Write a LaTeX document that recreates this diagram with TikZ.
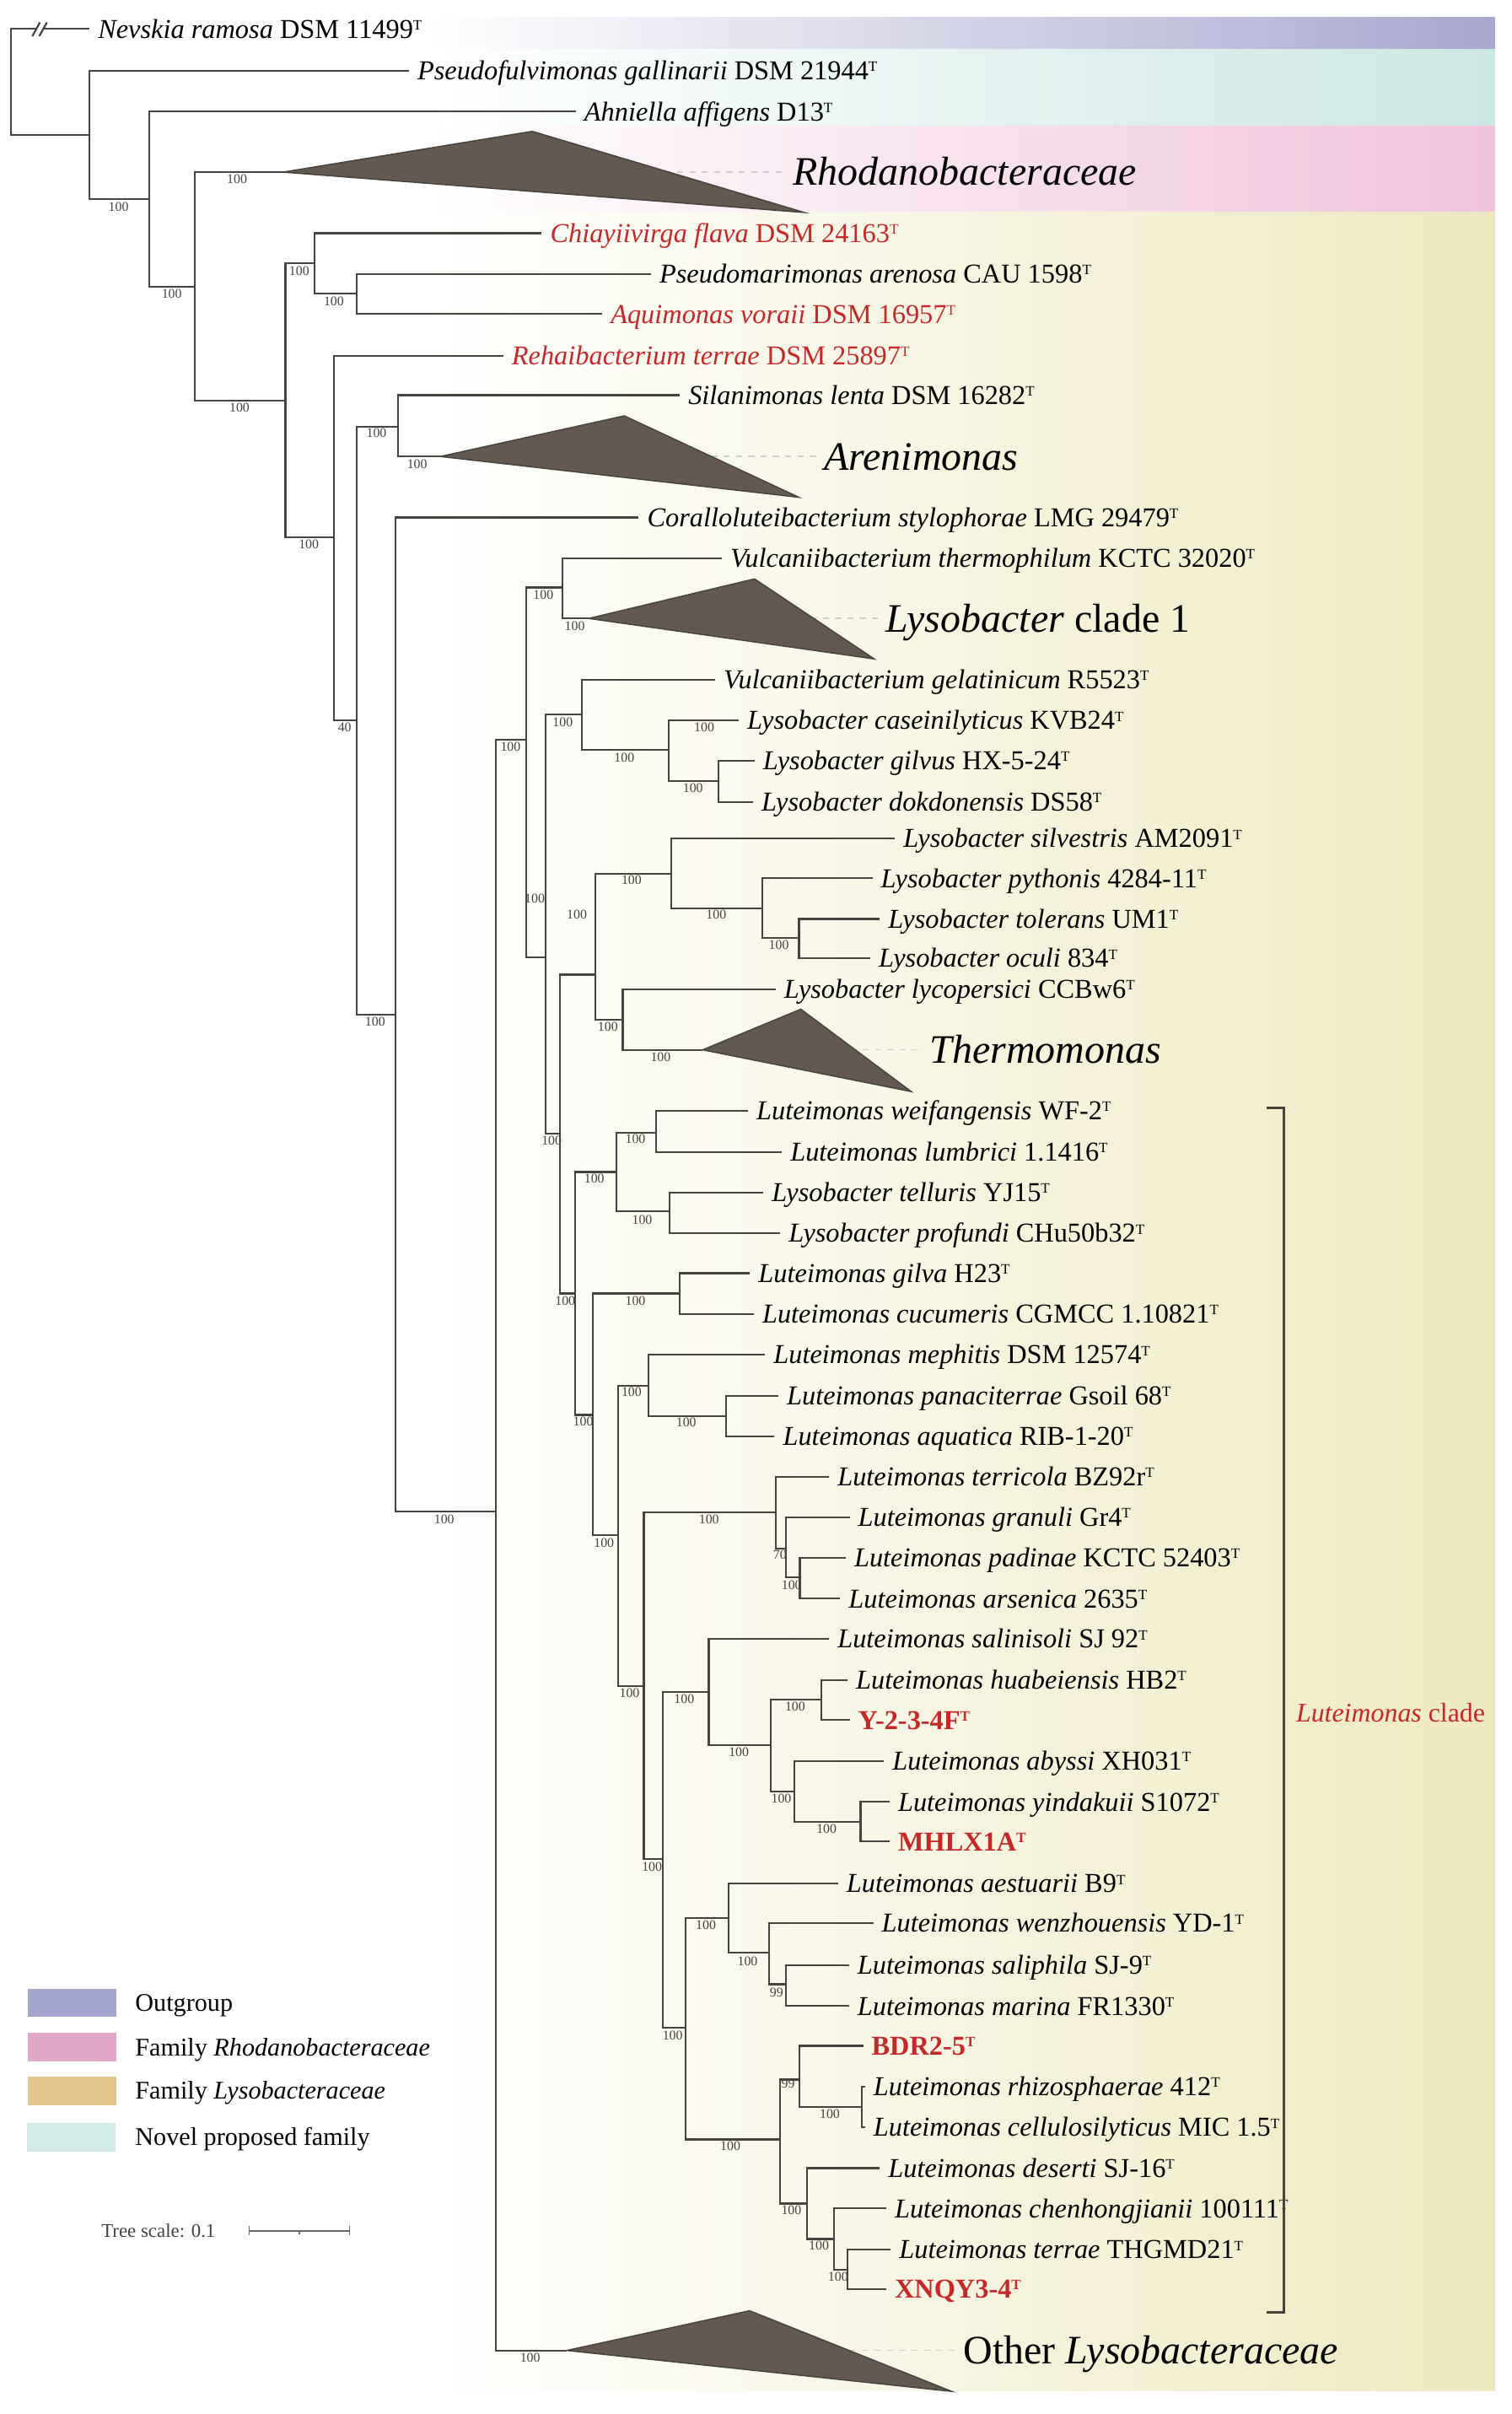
\documentclass[tikz,border=0pt]{standalone}
\usepackage{fontspec}
\setmainfont{Liberation Serif}

\newcommand{\tstr}{\raisebox{4pt}{\fontsize{7}{8}\selectfont T}}

\definecolor{treeline}{RGB}{70,66,62}
\definecolor{cladefill}{RGB}{99,89,81}
\definecolor{outgrp}{RGB}{168,168,208}
\definecolor{novelfam}{RGB}{204,232,228}
\definecolor{rhodofam}{RGB}{240,196,220}
\definecolor{lysofam}{RGB}{238,233,192}
\definecolor{legout}{RGB}{163,166,204}
\definecolor{legrho}{RGB}{225,166,200}
\definecolor{leglys}{RGB}{227,198,138}
\definecolor{legnov}{RGB}{210,235,233}
\definecolor{strainred}{RGB}{196,40,40}

\tikzset{every picture/.style={line width=0.75pt}}
\tikzset{
  branch/.style={draw=treeline, line width=0.9pt},
  collapsed/.style={draw=treeline, fill=cladefill, line width=0.6pt},
  leader/.style={draw=gray!40, line width=0.6pt, dash pattern={on 3pt off 3pt}},
  leaf/.style={anchor=base west, inner sep=0pt, xshift=3.75pt, yshift=-4.4pt, font=\fontsize{13.3}{15}\selectfont},
  boot/.style={inner sep=0pt, text=treeline, font=\fontsize{6.5}{7}\selectfont},
  cladename/.style={anchor=base west, inner sep=0pt, yshift=-6.5pt, font=\fontsize{19.7}{22}\selectfont},
  legtext/.style={anchor=base west, inner sep=0pt, yshift=-4.1pt, font=\fontsize{12.4}{14}\selectfont},
  bracket/.style={draw=treeline, line width=1.1pt},
}

\begin{document}
\begin{tikzpicture}[x=0.75pt,y=0.75pt,yscale=-1,xscale=1]
\useasboundingbox (0,0) rectangle (982,1568);

% family bands
\shade[left color=white, right color=outgrp] (278,11) rectangle (971,32);
\shade[left color=white, right color=novelfam] (278,32) rectangle (971,82);
\shade[left color=white, right color=rhodofam] (278,82) rectangle (971,138);
\shade[left color=white, right color=lysofam] (278,138) rectangle (971,1553);

% internal nodes
\coordinate (root) at (7,53.2);
\coordinate (n1) at (58.2,87.6);
\coordinate (n2) at (96.8,129.1);
\coordinate (n3) at (126.7,186.3);
\coordinate (n4) at (185.5,260.3);
\coordinate (n5) at (204.2,171);
\coordinate (n6) at (231.7,190.7);
\coordinate (n7) at (217,349.1);
\coordinate (n8) at (231.7,467.7);
\coordinate (n9) at (258.8,277);
\coordinate (n11) at (256.9,659.1);
\coordinate (n12) at (322.3,981.9);
\coordinate (n13) at (341.8,480.6);
\coordinate (n14) at (365.6,381.6);
\coordinate (n16) at (354.3,621.7);
\coordinate (n17) at (378.2,464);
\coordinate (n18) at (434.5,487.2);
\coordinate (n19) at (466.7,507.5);
\coordinate (n20) at (363.8,736.2);
\coordinate (n21) at (386.7,633);
\coordinate (n22) at (436.1,567.4);
\coordinate (n23) at (495.2,589.9);
\coordinate (n24) at (519.1,609.2);
\coordinate (n25) at (404.6,662.3);
\coordinate (n26) at (373.7,840.1);
\coordinate (n27) at (400.4,761.3);
\coordinate (n28) at (426.4,735.6);
\coordinate (n29) at (434.8,786.9);
\coordinate (n30) at (385.1,919);
\coordinate (n31) at (441.7,840.1);
\coordinate (n32) at (401.5,997.3);
\coordinate (n33) at (421.3,900);
\coordinate (n34) at (471.7,919.7);
\coordinate (n35) at (418.3,1095);
\coordinate (n36) at (504,982.5);
\coordinate (n37) at (510.5,1005.9);
\coordinate (n38) at (519.6,1024.5);
\coordinate (n39) at (430.6,1207.5);
\coordinate (n40) at (460.5,1098.8);
\coordinate (n41) at (500.8,1133.7);
\coordinate (n42) at (533.8,1104.1);
\coordinate (n43) at (516,1163.5);
\coordinate (n44) at (559.1,1183.5);
\coordinate (n45) at (445.3,1317);
\coordinate (n46) at (473.2,1245.7);
\coordinate (n47) at (499.5,1268.3);
\coordinate (n48) at (510.7,1288.8);
\coordinate (n49) at (506.6,1389.6);
\coordinate (n50) at (519.5,1350.7);
\coordinate (n51) at (560,1368.4);
\coordinate (n52) at (524.5,1431.3);
\coordinate (n53) at (542,1454.3);
\coordinate (n54) at (550.8,1474.4);

% leaves
\coordinate (brkA) at (23.5,18.8);
\coordinate (brkB) at (28,18.8);
\coordinate (nevskia) at (58.2,18.8);
\coordinate (pseudofulvimonas) at (265.7,46);
\coordinate (ahniella) at (374.1,72.5);
\coordinate (chiayiivirga) at (352,151.5);
\coordinate (pseudomarimonas) at (423,178);
\coordinate (aquimonas) at (391.3,204);
\coordinate (rehaibacterium) at (327,231);
\coordinate (silanimonas) at (441.7,256.7);
\coordinate (coralloluteibacterium) at (415,336.1);
\coordinate (vulcthermo) at (469,362.5);
\coordinate (vulcgel) at (464.7,441.5);
\coordinate (caseinilyticus) at (480,468);
\coordinate (gilvus) at (490.2,494.1);
\coordinate (dokdonensis) at (489.3,521);
\coordinate (silvestris) at (581.5,544.7);
\coordinate (pythonis) at (566.8,570.5);
\coordinate (tolerans) at (571.6,596.9);
\coordinate (oculi) at (565.5,622.4);
\coordinate (lycopersici) at (504,642.5);
\coordinate (weifangensis) at (486,721.5);
\coordinate (lumbrici) at (508,748.3);
\coordinate (telluris) at (496,774.5);
\coordinate (profundi) at (507,801);
\coordinate (gilva) at (487.3,827);
\coordinate (cucumeris) at (489.8,853.5);
\coordinate (mephitis) at (497.1,880);
\coordinate (panaciterrae) at (505.7,906.6);
\coordinate (aquatica) at (503.2,933);
\coordinate (terricola) at (538.7,959.3);
\coordinate (granuli) at (552,985.4);
\coordinate (padinae) at (549.5,1011.7);
\coordinate (arsenica) at (545.9,1038.4);
\coordinate (salinisoli) at (538.7,1064.6);
\coordinate (huabeiensis) at (550.7,1091.3);
\coordinate (y234f) at (552,1117.3);
\coordinate (abyssi) at (574.3,1143.8);
\coordinate (yindakuii) at (578,1170.4);
\coordinate (mhlx1a) at (578,1196.2);
\coordinate (aestuarii) at (544.5,1223.4);
\coordinate (wenzhouensis) at (567.4,1249.2);
\coordinate (saliphila) at (551.6,1276.5);
\coordinate (marina) at (551.6,1303);
\coordinate (bdr25) at (560.8,1328.8);
\coordinate (rhizosphaerae) at (562,1355.3);
\coordinate (cellulosilyticus) at (562,1381.8);
\coordinate (deserti) at (571.6,1408.3);
\coordinate (chenhongjianii) at (575.8,1434.5);
\coordinate (terrae) at (578.7,1461.3);
\coordinate (xnqy34) at (575.8,1486.8);

% collapsed clades
\coordinate (rhodo) at (183.9,111.8);
\coordinate (areni) at (286.1,296.5);
\coordinate (clade1) at (382.5,401.7);
\coordinate (thermo) at (456.5,681.9);
\coordinate (other) at (368.2,1526.7);

% dashed leaders
\draw[leader] (rhodo) -- (511,111.8);
\draw[leader] (areni) -- (531,296.5);
\draw[leader] (clade1) -- (571,401.7);
\draw[leader] (thermo) -- (600,681.9);
\draw[leader] (other) -- (621,1526.7);

% branches
\draw[branch] (root) |- (brkA);
\draw[branch] (brkB) -- (nevskia);
\draw[branch] (21,23.5) -- (26,14.5);
\draw[branch] (25.5,23.5) -- (30.5,14.5);
\draw[branch] (root) |- (n1);
\draw[branch] (n1) |- (pseudofulvimonas) (n1) |- (n2);
\draw[branch] (n2) |- (ahniella) (n2) |- (n3);
\draw[branch] (n3) |- (rhodo) (n3) |- (n4);
\draw[branch] (n4) |- (n5) (n4) |- (n7);
\draw[branch] (n5) |- (chiayiivirga) (n5) |- (n6);
\draw[branch] (n6) |- (pseudomarimonas) (n6) |- (aquimonas);
\draw[branch] (n7) |- (rehaibacterium) (n7) |- (n8);
\draw[branch] (n8) |- (n9) (n8) |- (n11);
\draw[branch] (n9) |- (silanimonas) (n9) |- (areni);
\draw[branch] (n11) |- (coralloluteibacterium) (n11) |- (n12);
\draw[branch] (n12) |- (n13) (n12) |- (other);
\draw[branch] (n13) |- (n14) (n13) |- (n16);
\draw[branch] (n14) |- (vulcthermo) (n14) |- (clade1);
\draw[branch] (n16) |- (n17) (n16) |- (n20);
\draw[branch] (n17) |- (vulcgel) (n17) |- (n18);
\draw[branch] (n18) |- (caseinilyticus) (n18) |- (n19);
\draw[branch] (n19) |- (gilvus) (n19) |- (dokdonensis);
\draw[branch] (n20) |- (n21) (n20) |- (n26);
\draw[branch] (n21) |- (n22) (n21) |- (n25);
\draw[branch] (n22) |- (silvestris) (n22) |- (n23);
\draw[branch] (n23) |- (pythonis) (n23) |- (n24);
\draw[branch] (n24) |- (tolerans) (n24) |- (oculi);
\draw[branch] (n25) |- (lycopersici) (n25) |- (thermo);
\draw[branch] (n26) |- (n27) (n26) |- (n30);
\draw[branch] (n27) |- (n28) (n27) |- (n29);
\draw[branch] (n28) |- (weifangensis) (n28) |- (lumbrici);
\draw[branch] (n29) |- (telluris) (n29) |- (profundi);
\draw[branch] (n30) |- (n31) (n30) |- (n32);
\draw[branch] (n31) |- (gilva) (n31) |- (cucumeris);
\draw[branch] (n32) |- (n33) (n32) |- (n35);
\draw[branch] (n33) |- (mephitis) (n33) |- (n34);
\draw[branch] (n34) |- (panaciterrae) (n34) |- (aquatica);
\draw[branch] (n35) |- (n36) (n35) |- (n39);
\draw[branch] (n36) |- (terricola) (n36) |- (n37);
\draw[branch] (n37) |- (granuli) (n37) |- (n38);
\draw[branch] (n38) |- (padinae) (n38) |- (arsenica);
\draw[branch] (n39) |- (n40) (n39) |- (n45);
\draw[branch] (n40) |- (salinisoli) (n40) |- (n41);
\draw[branch] (n41) |- (n42) (n41) |- (n43);
\draw[branch] (n42) |- (huabeiensis) (n42) |- (y234f);
\draw[branch] (n43) |- (abyssi) (n43) |- (n44);
\draw[branch] (n44) |- (yindakuii) (n44) |- (mhlx1a);
\draw[branch] (n45) |- (n46) (n45) |- (n49);
\draw[branch] (n46) |- (aestuarii) (n46) |- (n47);
\draw[branch] (n47) |- (wenzhouensis) (n47) |- (n48);
\draw[branch] (n48) |- (saliphila) (n48) |- (marina);
\draw[branch] (n49) |- (n50) (n49) |- (n52);
\draw[branch] (n50) |- (bdr25) (n50) |- (n51);
\draw[branch] (n51) |- (rhizosphaerae) (n51) |- (cellulosilyticus);
\draw[branch] (n52) |- (deserti) (n52) |- (n53);
\draw[branch] (n53) |- (chenhongjianii) (n53) |- (n54);
\draw[branch] (n54) |- (terrae) (n54) |- (xnqy34);

% triangles
\draw[collapsed] (rhodo) -- (345.8,85.3) -- (522.5,138) -- cycle;
\draw[collapsed] (areni) -- (405.6,270.1) -- (519,323) -- cycle;
\draw[collapsed] (clade1) -- (490.2,376) -- (568,428) -- cycle;
\draw[collapsed] (thermo) -- (520.3,655.5) -- (592,709) -- cycle;
\draw[collapsed] (other) -- (487,1500.9) -- (618.3,1553.3) -- cycle;

% leaf labels
\node[leaf] (t-nevskia) at (nevskia) {\textit{Nevskia ramosa} DSM 11499\tstr};
\node[leaf] (t-pseudofulvimonas) at (pseudofulvimonas) {\textit{Pseudofulvimonas gallinarii} DSM 21944\tstr};
\node[leaf] (t-ahniella) at (ahniella) {\textit{Ahniella affigens} D13\tstr};
\node[leaf, text=strainred] (t-chiayiivirga) at (chiayiivirga) {\textit{Chiayiivirga flava} DSM 24163\tstr};
\node[leaf] (t-pseudomarimonas) at (pseudomarimonas) {\textit{Pseudomarimonas arenosa} CAU 1598\tstr};
\node[leaf, text=strainred] (t-aquimonas) at (aquimonas) {\textit{Aquimonas voraii} DSM 16957\tstr};
\node[leaf, text=strainred] (t-rehaibacterium) at (rehaibacterium) {\textit{Rehaibacterium terrae} DSM 25897\tstr};
\node[leaf] (t-silanimonas) at (silanimonas) {\textit{Silanimonas lenta} DSM 16282\tstr};
\node[leaf] (t-coralloluteibacterium) at (coralloluteibacterium) {\textit{Coralloluteibacterium stylophorae} LMG 29479\tstr};
\node[leaf] (t-vulcthermo) at (vulcthermo) {\textit{Vulcaniibacterium thermophilum} KCTC 32020\tstr};
\node[leaf] (t-vulcgel) at (vulcgel) {\textit{Vulcaniibacterium gelatinicum} R5523\tstr};
\node[leaf] (t-caseinilyticus) at (caseinilyticus) {\textit{Lysobacter caseinilyticus} KVB24\tstr};
\node[leaf] (t-gilvus) at (gilvus) {\textit{Lysobacter gilvus} HX-5-24\tstr};
\node[leaf] (t-dokdonensis) at (dokdonensis) {\textit{Lysobacter dokdonensis} DS58\tstr};
\node[leaf] (t-silvestris) at (silvestris) {\textit{Lysobacter silvestris} AM2091\tstr};
\node[leaf] (t-pythonis) at (pythonis) {\textit{Lysobacter pythonis} 4284-11\tstr};
\node[leaf] (t-tolerans) at (tolerans) {\textit{Lysobacter tolerans} UM1\tstr};
\node[leaf] (t-oculi) at (oculi) {\textit{Lysobacter oculi} 834\tstr};
\node[leaf] (t-lycopersici) at (lycopersici) {\textit{Lysobacter lycopersici} CCBw6\tstr};
\node[leaf] (t-weifangensis) at (weifangensis) {\textit{Luteimonas weifangensis} WF-2\tstr};
\node[leaf] (t-lumbrici) at (lumbrici) {\textit{Luteimonas lumbrici} 1.1416\tstr};
\node[leaf] (t-telluris) at (telluris) {\textit{Lysobacter telluris} YJ15\tstr};
\node[leaf] (t-profundi) at (profundi) {\textit{Lysobacter profundi} CHu50b32\tstr};
\node[leaf] (t-gilva) at (gilva) {\textit{Luteimonas gilva} H23\tstr};
\node[leaf] (t-cucumeris) at (cucumeris) {\textit{Luteimonas cucumeris} CGMCC 1.10821\tstr};
\node[leaf] (t-mephitis) at (mephitis) {\textit{Luteimonas mephitis} DSM 12574\tstr};
\node[leaf] (t-panaciterrae) at (panaciterrae) {\textit{Luteimonas panaciterrae} Gsoil 68\tstr};
\node[leaf] (t-aquatica) at (aquatica) {\textit{Luteimonas aquatica} RIB-1-20\tstr};
\node[leaf] (t-terricola) at (terricola) {\textit{Luteimonas terricola} BZ92r\tstr};
\node[leaf] (t-granuli) at (granuli) {\textit{Luteimonas granuli} Gr4\tstr};
\node[leaf] (t-padinae) at (padinae) {\textit{Luteimonas padinae} KCTC 52403\tstr};
\node[leaf] (t-arsenica) at (arsenica) {\textit{Luteimonas arsenica} 2635\tstr};
\node[leaf] (t-salinisoli) at (salinisoli) {\textit{Luteimonas salinisoli} SJ 92\tstr};
\node[leaf] (t-huabeiensis) at (huabeiensis) {\textit{Luteimonas huabeiensis} HB2\tstr};
\node[leaf, text=strainred, font=\fontsize{13.3}{15}\selectfont\bfseries] (t-y234f) at (y234f) {Y-2-3-4F\tstr};
\node[leaf] (t-abyssi) at (abyssi) {\textit{Luteimonas abyssi} XH031\tstr};
\node[leaf] (t-yindakuii) at (yindakuii) {\textit{Luteimonas yindakuii} S1072\tstr};
\node[leaf, text=strainred, font=\fontsize{13.3}{15}\selectfont\bfseries] (t-mhlx1a) at (mhlx1a) {MHLX1A\tstr};
\node[leaf] (t-aestuarii) at (aestuarii) {\textit{Luteimonas aestuarii} B9\tstr};
\node[leaf] (t-wenzhouensis) at (wenzhouensis) {\textit{Luteimonas wenzhouensis} YD-1\tstr};
\node[leaf] (t-saliphila) at (saliphila) {\textit{Luteimonas saliphila} SJ-9\tstr};
\node[leaf] (t-marina) at (marina) {\textit{Luteimonas marina} FR1330\tstr};
\node[leaf, text=strainred, font=\fontsize{13.3}{15}\selectfont\bfseries] (t-bdr25) at (bdr25) {BDR2-5\tstr};
\node[leaf] (t-rhizosphaerae) at (rhizosphaerae) {\textit{Luteimonas rhizosphaerae} 412\tstr};
\node[leaf] (t-cellulosilyticus) at (cellulosilyticus) {\textit{Luteimonas cellulosilyticus} MIC 1.5\tstr};
\node[leaf] (t-deserti) at (deserti) {\textit{Luteimonas deserti} SJ-16\tstr};
\node[leaf] (t-chenhongjianii) at (chenhongjianii) {\textit{Luteimonas chenhongjianii} 100111\tstr};
\node[leaf] (t-terrae) at (terrae) {\textit{Luteimonas terrae} THGMD21\tstr};
\node[leaf, text=strainred, font=\fontsize{13.3}{15}\selectfont\bfseries] (t-xnqy34) at (xnqy34) {XNQY3-4\tstr};

% clade names
\node[cladename] (c-rhodo) at (514.8,111.8) {\textit{Rhodanobacteraceae}};
\node[cladename] (c-areni) at (535,296.5) {\textit{Arenimonas}};
\node[cladename] (c-clade1) at (575,401.7) {\textit{Lysobacter} clade 1};
\node[cladename] (c-thermo) at (603.5,681.9) {\textit{Thermomonas}};
\node[cladename] (c-other) at (625.4,1526.7) {Other \textit{Lysobacteraceae}};

% bootstrap values
\node[boot] (b-n2) at (77,134.2) {100};
\node[boot] (b-n3) at (111.6,190.8) {100};
\node[boot] (b-rhodo) at (154,116.5) {100};
\node[boot] (b-n4) at (155.6,264.7) {100};
\node[boot] (b-n5) at (194.4,175.8) {100};
\node[boot] (b-n6) at (216.9,195.7) {100};
\node[boot] (b-n7) at (200.6,353.5) {100};
\node[boot] (b-n8) at (223.9,472.6) {40};
\node[boot] (b-n9) at (244.6,281.4) {100};
\node[boot] (b-areni) at (271,301.4) {100};
\node[boot] (b-n11) at (243.7,663.5) {100};
\node[boot] (b-n12) at (288.6,986.8) {100};
\node[boot] (b-other) at (344.4,1531.3) {100};
\node[boot] (b-n13) at (331.7,484.8) {100};
\node[boot] (b-n14) at (353,386.5) {100};
\node[boot] (b-clade1) at (373.4,406.6) {100};
\node[boot] (b-n16) at (347.4,583.8) {100};
\node[boot] (b-n17) at (365.6,468.9) {100};
\node[boot] (b-n18) at (405.6,492.1) {100};
\node[boot] (b-casein) at (457.5,472.6) {100};
\node[boot] (b-n19) at (450.2,511.7) {100};
\node[boot] (b-n20) at (358.4,741) {100};
\node[boot] (b-n21) at (374.8,594.1) {100};
\node[boot] (b-n22) at (410.3,571.6) {100};
\node[boot] (b-n23) at (465.3,594.1) {100};
\node[boot] (b-n24) at (506,614) {100};
\node[boot] (b-n25) at (394.9,667) {100};
\node[boot] (b-thermo) at (429.2,686.8) {100};
\node[boot] (b-n26) at (367.2,845) {100};
\node[boot] (b-n27) at (386.1,765.5) {100};
\node[boot] (b-n28) at (412.8,739.8) {100};
\node[boot] (b-n29) at (417.2,792.4) {100};
\node[boot] (b-n30) at (378.9,923.2) {100};
\node[boot] (b-n31) at (412.8,845) {100};
\node[boot] (b-n32) at (392.4,1002.2) {100};
\node[boot] (b-n33) at (410.3,904.1) {100};
\node[boot] (b-n34) at (445.8,923.9) {100};
\node[boot] (b-n35) at (409,1100) {100};
\node[boot] (b-n36) at (460.6,986.8) {100};
\node[boot] (b-n37) at (506.7,1009.9) {70};
\node[boot] (b-n38) at (514.3,1029.6) {100};
\node[boot] (b-n39) at (423.6,1212.8) {100};
\node[boot] (b-n40) at (444.5,1103.8) {100};
\node[boot] (b-n41) at (480,1138.3) {100};
\node[boot] (b-n42) at (516.6,1108.7) {100};
\node[boot] (b-n43) at (507.6,1168.4) {100};
\node[boot] (b-n44) at (537,1187.7) {100};
\node[boot] (b-n45) at (437,1322.4) {100};
\node[boot] (b-n46) at (458.6,1250.6) {100};
\node[boot] (b-n47) at (485.7,1274) {100};
\node[boot] (b-n48) at (504.5,1294.1) {99};
\node[boot] (b-n49) at (474.5,1394.2) {100};
\node[boot] (b-n50) at (512,1353.2) {99};
\node[boot] (b-n51) at (539.1,1373) {100};
\node[boot] (b-n52) at (514.1,1435.5) {100};
\node[boot] (b-n53) at (532,1458.5) {100};
\node[boot] (b-n54) at (544.5,1479) {100};

% Luteimonas clade bracket
\coordinate (lc-t1) at (823,719.7);
\coordinate (lc-t2) at (834.2,719.7);
\coordinate (lc-b2) at (834.2,1502);
\coordinate (lc-b1) at (823,1502);
\draw[bracket] (lc-t1) -- (lc-t2) -- (lc-b2) -- (lc-b1);
\node[anchor=west, inner sep=0pt, text=strainred, font=\fontsize{13.1}{15}\selectfont] (lc-name) at (841.6,1112.3) {\textit{Luteimonas} clade};

% legend
\fill[legout] (17.9,1291.7) rectangle (75.5,1310.1);
\fill[legrho] (17.9,1320.6) rectangle (75.5,1339);
\fill[leglys] (17.9,1348.9) rectangle (75.5,1367.3);
\fill[legnov] (17.5,1379) rectangle (74.9,1397.7);
\node[legtext] (lg-out) at (87.4,1301) {Outgroup};
\node[legtext] (lg-rho) at (87.4,1330) {Family \textit{Rhodanobacteraceae}};
\node[legtext] (lg-lys) at (87.4,1358) {Family \textit{Lysobacteraceae}};
\node[legtext] (lg-nov) at (87.4,1388) {Novel proposed family};

% tree scale
\node[anchor=west, inner sep=0pt, text=treeline, font=\fontsize{9.4}{11}\selectfont] (sc-text) at (65.4,1449) {Tree scale: 0.1};
\coordinate (sb-l) at (161.9,1449);
\coordinate (sb-r) at (227,1449);
\draw[draw=treeline!80, line width=0.6pt] (sb-l) -- (sb-r);
\draw[draw=treeline!80, line width=0.6pt] (161.9,1446) -- (161.9,1452);
\draw[draw=treeline!80, line width=0.6pt] (227,1446) -- (227,1452);
\draw[draw=treeline!80, line width=0.5pt] (194.5,1449) -- (194.5,1451.5);

\end{tikzpicture}
\end{document}
